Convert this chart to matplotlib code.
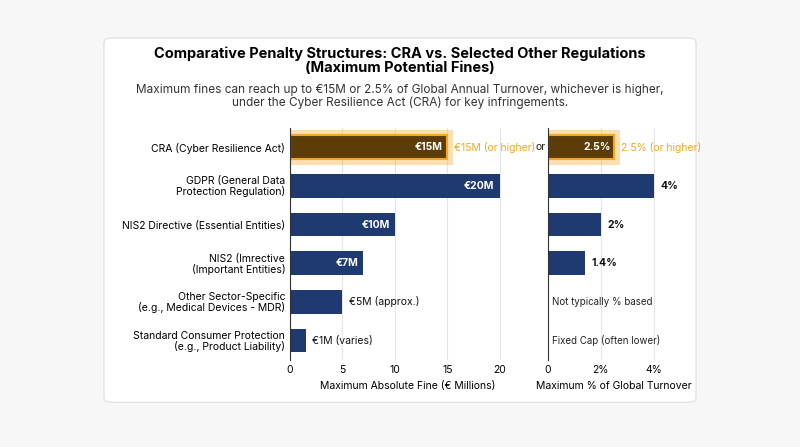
import matplotlib.pyplot as plt
from matplotlib.patches import FancyBboxPatch
import matplotlib.patheffects as pe

categories = ["CRA (Cyber Resilience Act)", "GDPR (General Data\nProtection Regulation)",
              "NIS2 Directive (Essential Entities)", "NIS2 (Imrective\n(Important Entities)",
              "Other Sector-Specific\n(e.g., Medical Devices - MDR)",
              "Standard Consumer Protection\n(e.g., Product Liability)"]
fines = [15, 20, 10, 7, 5, 1.5]
fine_labels = ["€15M", "€20M", "€10M", "€7M", "€5M (approx.)", "€1M (varies)"]
pcts = [2.5, 4, 2, 1.4, None, None]
pct_labels = ["2.5%", "4%", "2%", "1.4%", "Not typically % based", "Fixed Cap (often lower)"]

plt.rcParams['font.family'] = ['Inter', 'DejaVu Sans']
NAVY = "#1f3a70"; ORANGE = "#f5a623"; BROWN = "#5c3c08"

fig = plt.figure(figsize=(8, 4.47), dpi=100)
fig.patch.set_facecolor("#f7f7f7")
card = FancyBboxPatch((0.13, 0.10), 0.74, 0.815, boxstyle="round,pad=0,rounding_size=0.01",
                      transform=fig.transFigure, facecolor="white", edgecolor="#dddddd", lw=0.8,
                      zorder=-10)
fig.patches.append(card)

fig.text(0.5, 0.865, "Comparative Penalty Structures: CRA vs. Selected Other Regulations\n(Maximum Potential Fines)",
         ha="center", va="center", fontsize=10.5, fontweight="bold", linespacing=1.0)
fig.text(0.5, 0.785, "Maximum fines can reach up to €15M or 2.5% of Global Annual Turnover, whichever is higher,\nunder the Cyber Resilience Act (CRA) for key infringements.",
         ha="center", va="center", fontsize=8.5, color="#333333", linespacing=1.05)

y = list(range(len(categories)))
ax1 = fig.add_axes([0.3625, 0.195, 0.295, 0.519])
ax2 = fig.add_axes([0.685, 0.195, 0.165, 0.519])
glow = [pe.withStroke(linewidth=8, foreground=ORANGE, alpha=0.35)]

for ax in (ax1, ax2):
    ax.set_facecolor("none")
    ax.set_ylim(5.5, -0.5)
    for s in ("top", "right", "bottom"):
        ax.spines[s].set_visible(False)
    ax.spines["left"].set_color("#333333")
    ax.grid(axis="x", color="#e5e5e5", lw=0.8)
    ax.set_axisbelow(True)
    ax.tick_params(axis="x", length=0, labelsize=7.5, pad=4)
    ax.tick_params(axis="y", length=0)

bars = ax1.barh(y, fines, height=0.62, color=[BROWN] + [NAVY] * 5)
bars[0].set_edgecolor(ORANGE); bars[0].set_linewidth(1.5); bars[0].set_path_effects(glow)
ax1.set_xlim(0, 22.5)
ax1.set_xticks([0, 5, 10, 15, 20])
ax1.set_yticks(y)
ax1.set_yticklabels(categories, fontsize=7.5, linespacing=1.0)
ax1.set_xlabel("Maximum Absolute Fine (€ Millions)", fontsize=7.5, labelpad=4)
for i, (v, l) in enumerate(zip(fines, fine_labels)):
    if i < 4:
        ax1.text(v - 0.5, i, l, ha="right", va="center", color="white", fontsize=7.5, fontweight="bold")
    else:
        ax1.text(v + 0.6, i, l, ha="left", va="center", color="#111111", fontsize=7.5)
ax1.text(15.6, 0, "€15M (or higher)", ha="left", va="center", color=ORANGE, fontsize=7.5)
ax1.text(23.4, 0, "or", ha="left", va="center", color="#222222", fontsize=7.5)

pv = [p if p is not None else 0 for p in pcts]
bars2 = ax2.barh(y, pv, height=0.62, color=[BROWN] + [NAVY] * 5)
bars2[0].set_edgecolor(ORANGE); bars2[0].set_linewidth(1.5); bars2[0].set_path_effects(glow)
ax2.set_xlim(0, 5.0)
ax2.set_xticks([0, 2, 4]); ax2.set_xticklabels(["0", "2%", "4%"])
ax2.set_yticks([])
ax2.set_xlabel("Maximum % of Global Turnover", fontsize=7.5, labelpad=4)
for i, (p, l) in enumerate(zip(pcts, pct_labels)):
    if i == 0:
        ax2.text(p - 0.1, i, l, ha="right", va="center", color="white", fontsize=7.5, fontweight="bold")
        ax2.text(p + 0.25, i, "2.5% (or higher)", ha="left", va="center", color=ORANGE, fontsize=7.5)
    elif p is not None:
        ax2.text(p + 0.25, i, l, ha="left", va="center", color="#111111", fontsize=7.5, fontweight="bold")
    else:
        ax2.text(0.15, i, l, ha="left", va="center", color="#222222", fontsize=7)

fig.savefig("out.png", dpi=100, facecolor=fig.get_facecolor())
